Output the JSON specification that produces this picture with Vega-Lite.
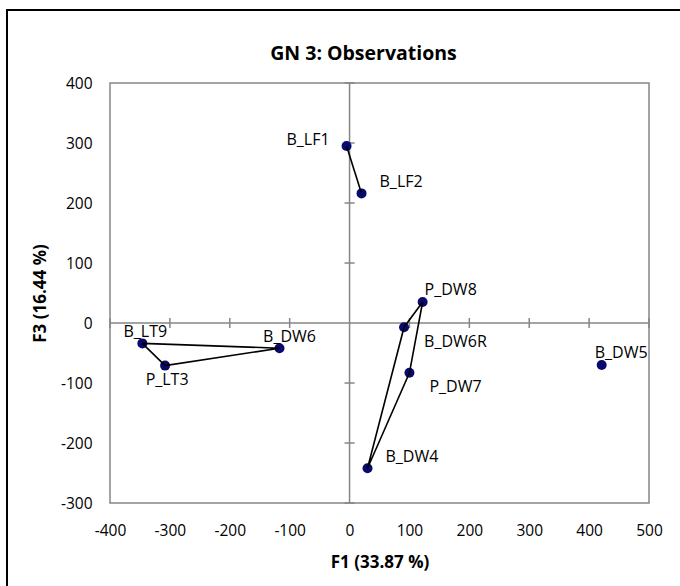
{
  "$schema": "https://vega.github.io/schema/vega-lite/v6.json",
  "width": 539,
  "height": 420,
  "autosize": {"type": "none"},
  "padding": {"left": 110, "top": 83, "right": 31, "bottom": 83},
  "background": "white",
  "config": {
    "font": "Open Sans",
    "view": {"stroke": "#868686", "strokeWidth": 1.5}
  },
  "title": {
    "text": "GN 3: Observations",
    "font": "Open Sans",
    "fontSize": 19.5,
    "fontWeight": "bold",
    "color": "#000000",
    "anchor": "middle",
    "frame": "group",
    "dx": -16,
    "offset": -55
  },
  "datasets": {
    "obs": [
      {"label": "B_LF1", "F1": -5, "F3": 295},
      {"label": "B_LF2", "F1": 20, "F3": 216},
      {"label": "P_DW8", "F1": 122, "F3": 35},
      {"label": "B_DW6R", "F1": 91, "F3": -7},
      {"label": "P_DW7", "F1": 100, "F3": -83},
      {"label": "B_DW4", "F1": 30, "F3": -242},
      {"label": "B_DW5", "F1": 421, "F3": -70},
      {"label": "B_LT9", "F1": -346, "F3": -34},
      {"label": "P_LT3", "F1": -308, "F3": -71},
      {"label": "B_DW6", "F1": -117, "F3": -42}
    ],
    "hulls": [
      {"grp": "LT", "ord": 1, "label": "B_LT9"},
      {"grp": "LT", "ord": 2, "label": "B_DW6"},
      {"grp": "LT", "ord": 3, "label": "P_LT3"},
      {"grp": "LT", "ord": 4, "label": "B_LT9"},
      {"grp": "LF", "ord": 1, "label": "B_LF1"},
      {"grp": "LF", "ord": 2, "label": "B_LF2"},
      {"grp": "DW", "ord": 1, "label": "P_DW8"},
      {"grp": "DW", "ord": 2, "label": "B_DW6R"},
      {"grp": "DW", "ord": 3, "label": "B_DW4"},
      {"grp": "DW", "ord": 4, "label": "P_DW7"},
      {"grp": "DW", "ord": 5, "label": "P_DW8"}
    ],
    "xticks": [
      {"F1": -400}, {"F1": -300}, {"F1": -200}, {"F1": -100},
      {"F1": 100}, {"F1": 200}, {"F1": 300}, {"F1": 400}, {"F1": 500}
    ],
    "yticks": [
      {"F3": -300}, {"F3": -200}, {"F3": -100},
      {"F3": 100}, {"F3": 200}, {"F3": 300}, {"F3": 400}
    ]
  },
  "layer": [
    {
      "data": {"values": [{}]},
      "mark": {"type": "rect", "x": -103, "y": -73, "x2": 700, "y2": 600, "fill": null, "stroke": "#000000", "strokeWidth": 2}
    },
    {
      "data": {"values": [{}]},
      "mark": {"type": "rule", "color": "#868686", "strokeWidth": 1.5},
      "encoding": {"x": {"datum": 0, "type": "quantitative"}}
    },
    {
      "data": {"values": [{}]},
      "mark": {"type": "rule", "color": "#868686", "strokeWidth": 1.5},
      "encoding": {"y": {"datum": 0, "type": "quantitative"}}
    },
    {
      "data": {"name": "yticks"},
      "mark": {"type": "tick", "orient": "horizontal", "size": 10, "thickness": 1.5, "color": "#868686", "opacity": 1},
      "encoding": {
        "x": {"datum": 0, "type": "quantitative"},
        "y": {"field": "F3", "type": "quantitative"}
      }
    },
    {
      "data": {"name": "xticks"},
      "mark": {"type": "tick", "orient": "vertical", "size": 10, "thickness": 1.5, "color": "#868686", "opacity": 1},
      "encoding": {
        "x": {"field": "F1", "type": "quantitative"},
        "y": {"datum": 0, "type": "quantitative"}
      }
    },
    {
      "data": {"name": "obs"},
      "mark": {"type": "point", "filled": true, "shape": "circle", "size": 100, "color": "#0a0a6e", "opacity": 1},
      "encoding": {
        "x": {
          "field": "F1", "type": "quantitative",
          "scale": {"domain": [-400, 500], "nice": false, "zero": false},
          "axis": {
            "title": "F1 (33.87 %)", "values": [-400, -300, -200, -100, 0, 100, 200, 300, 400, 500],
            "labelExpr": "'' + datum.value",
            "grid": false, "domain": false, "ticks": false, "tickSize": 0,
            "labelFont": "Open Sans", "labelFontSize": 15.5, "labelColor": "#000000", "labelPadding": 20,
            "labelFlush": false, "labelOverlap": false,
            "titleFont": "Open Sans", "titleFontSize": 17, "titleFontWeight": "bold", "titleColor": "#000000", "titlePadding": 16
          }
        },
        "y": {
          "field": "F3", "type": "quantitative",
          "scale": {"domain": [-300, 400], "nice": false, "zero": false},
          "axis": {
            "title": "F3 (16.44 %)", "values": [-300, -200, -100, 0, 100, 200, 300, 400],
            "labelExpr": "'' + datum.value",
            "grid": false, "domain": false, "ticks": false, "tickSize": 0,
            "labelFont": "Open Sans", "labelFontSize": 15.5, "labelColor": "#000000", "labelPadding": 18,
            "labelFlush": false, "labelOverlap": false,
            "titleFont": "Open Sans", "titleFontSize": 17, "titleFontWeight": "bold", "titleColor": "#000000", "titlePadding": 11
          }
        }
      }
    },
    {
      "data": {"name": "hulls"},
      "transform": [
        {"lookup": "label", "from": {"data": {"name": "obs"}, "key": "label", "fields": ["F1", "F3"]}}
      ],
      "mark": {"type": "line", "color": "#000000", "strokeWidth": 1.6},
      "encoding": {
        "x": {"field": "F1", "type": "quantitative"},
        "y": {"field": "F3", "type": "quantitative"},
        "detail": {"field": "grp"},
        "order": {"field": "ord", "type": "quantitative"}
      }
    },
    {
      "data": {"name": "obs"},
      "transform": [{"filter": {"field": "label", "oneOf": ["B_LF1"]}}],
      "mark": {"type": "text", "align": "right", "baseline": "middle", "dx": -17, "dy": -6, "fontSize": 16, "color": "#000000"},
      "encoding": {"x": {"field": "F1", "type": "quantitative"}, "y": {"field": "F3", "type": "quantitative"}, "text": {"field": "label"}}
    },
    {
      "data": {"name": "obs"},
      "transform": [{"filter": {"field": "label", "oneOf": ["B_LF2", "B_DW4"]}}],
      "mark": {"type": "text", "align": "left", "baseline": "middle", "dx": 18, "dy": -11.5, "fontSize": 16, "color": "#000000"},
      "encoding": {"x": {"field": "F1", "type": "quantitative"}, "y": {"field": "F3", "type": "quantitative"}, "text": {"field": "label"}}
    },
    {
      "data": {"name": "obs"},
      "transform": [{"filter": {"field": "label", "oneOf": ["B_DW6R", "P_DW7"]}}],
      "mark": {"type": "text", "align": "left", "baseline": "middle", "dx": 20, "dy": 14.5, "fontSize": 16, "color": "#000000"},
      "encoding": {"x": {"field": "F1", "type": "quantitative"}, "y": {"field": "F3", "type": "quantitative"}, "text": {"field": "label"}}
    },
    {
      "data": {"name": "obs"},
      "transform": [{"filter": {"field": "label", "oneOf": ["P_DW8"]}}],
      "mark": {"type": "text", "align": "left", "baseline": "middle", "dx": 2, "dy": -12, "fontSize": 16, "color": "#000000"},
      "encoding": {"x": {"field": "F1", "type": "quantitative"}, "y": {"field": "F3", "type": "quantitative"}, "text": {"field": "label"}}
    },
    {
      "data": {"name": "obs"},
      "transform": [{"filter": {"field": "label", "oneOf": ["B_DW5"]}}],
      "mark": {"type": "text", "align": "left", "baseline": "middle", "dx": -7, "dy": -12, "fontSize": 16, "color": "#000000"},
      "encoding": {"x": {"field": "F1", "type": "quantitative"}, "y": {"field": "F3", "type": "quantitative"}, "text": {"field": "label"}}
    },
    {
      "data": {"name": "obs"},
      "transform": [{"filter": {"field": "label", "oneOf": ["B_LT9"]}}],
      "mark": {"type": "text", "align": "center", "baseline": "middle", "dx": 3, "dy": -11, "fontSize": 16, "color": "#000000"},
      "encoding": {"x": {"field": "F1", "type": "quantitative"}, "y": {"field": "F3", "type": "quantitative"}, "text": {"field": "label"}}
    },
    {
      "data": {"name": "obs"},
      "transform": [{"filter": {"field": "label", "oneOf": ["B_DW6"]}}],
      "mark": {"type": "text", "align": "center", "baseline": "middle", "dx": 10, "dy": -11.5, "fontSize": 16, "color": "#000000"},
      "encoding": {"x": {"field": "F1", "type": "quantitative"}, "y": {"field": "F3", "type": "quantitative"}, "text": {"field": "label"}}
    },
    {
      "data": {"name": "obs"},
      "transform": [{"filter": {"field": "label", "oneOf": ["P_LT3"]}}],
      "mark": {"type": "text", "align": "center", "baseline": "middle", "dx": 2, "dy": 14, "fontSize": 16, "color": "#000000"},
      "encoding": {"x": {"field": "F1", "type": "quantitative"}, "y": {"field": "F3", "type": "quantitative"}, "text": {"field": "label"}}
    }
  ]
}
